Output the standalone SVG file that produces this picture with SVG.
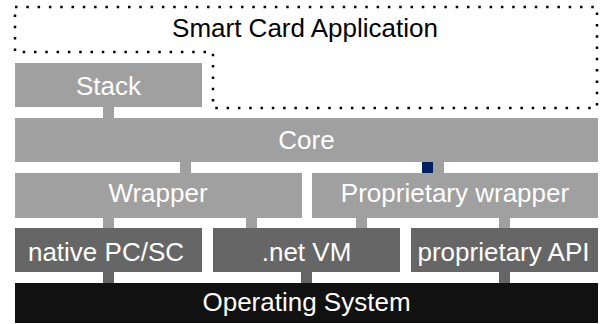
<svg xmlns="http://www.w3.org/2000/svg" width="604" height="324" viewBox="0 0 604 324">
<style>
text{font-family:"Liberation Sans",Arial,sans-serif;font-size:26px;text-anchor:middle}
.l{fill:#a0a0a0}
.d{fill:#666666}
.k{fill:#111111}
.w{fill:#ffffff}
.cl{fill:#a0a0a0}
.cd{fill:#666666}
</style>
<rect width="604" height="324" fill="#ffffff"/>
<g id="app">
<path d="M15,7 H597 V108 H213 V52 H15 Z" fill="none" stroke="#000" stroke-width="2.5" stroke-dasharray="2.5 8.8"/>
<text x="305" y="37" fill="#000">Smart Card Application</text>
</g>
<g id="connectors">
<rect class="cl" x="103" y="106" width="11" height="13"/>
<rect class="cl" x="180" y="161" width="11" height="13"/>
<rect class="cl" x="433" y="161" width="11" height="13"/>
<rect x="422" y="162" width="11" height="11" fill="#002060"/>
<rect class="cl" x="103" y="217" width="11" height="12"/>
<rect class="cl" x="246" y="217" width="11" height="12"/>
<rect class="cl" x="356" y="217" width="11" height="12"/>
<rect class="cl" x="499" y="217" width="11" height="12"/>
<rect class="cd" x="103" y="271" width="11" height="13"/>
<rect class="cd" x="301" y="271" width="11" height="13"/>
<rect class="cd" x="499" y="271" width="11" height="13"/>
</g>
<g id="stack">
<rect class="l" x="15" y="63" width="187" height="44"/>
<text class="w" x="108.5" y="95">Stack</text>
</g>
<g id="core">
<rect class="l" x="15" y="118" width="583" height="44"/>
<text class="w" x="306.5" y="149">Core</text>
</g>
<g id="wrapper">
<rect class="l" x="15" y="173" width="287" height="45"/>
<text class="w" x="158" y="201.5">Wrapper</text>
</g>
<g id="propwrapper">
<rect class="l" x="312" y="173" width="286" height="45"/>
<text class="w" x="455" y="201.5">Proprietary wrapper</text>
</g>
<g id="native">
<rect class="d" x="15" y="228" width="187" height="44"/>
<text class="w" x="106" y="261">native PC/SC</text>
</g>
<g id="netvm">
<rect class="d" x="213" y="228" width="187" height="44"/>
<text class="w" x="306.5" y="261">.net VM</text>
</g>
<g id="propapi">
<rect class="d" x="411" y="228" width="187" height="44"/>
<text class="w" x="503.5" y="261">proprietary API</text>
</g>
<g id="os">
<rect class="k" x="15" y="283" width="583" height="40"/>
<text class="w" x="306.5" y="311">Operating System</text>
</g>
</svg>
